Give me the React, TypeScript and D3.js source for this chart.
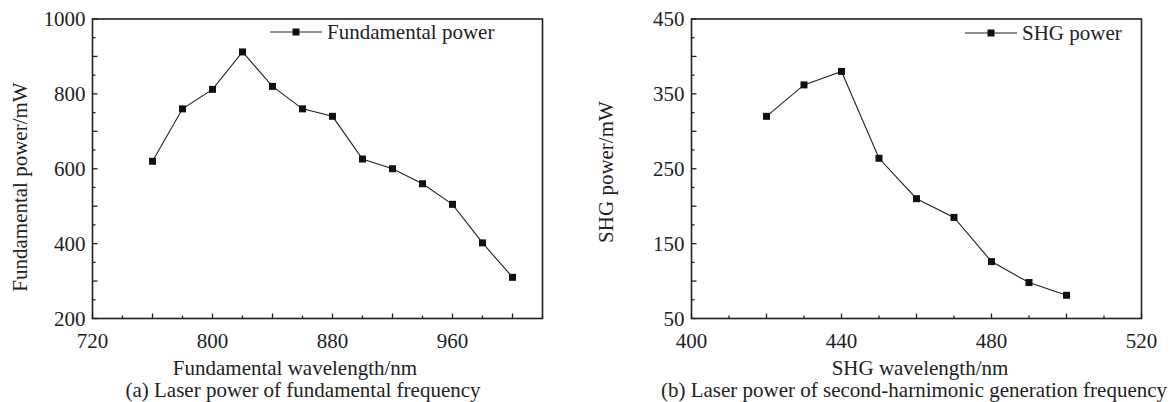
import React from 'react';
import * as d3 from 'd3';

// ---- Data ----
const fundWavelength = [760, 780, 800, 820, 840, 860, 880, 900, 920, 940, 960, 980, 1000];
const fundPower = [620, 760, 812, 912, 820, 760, 740, 626, 600, 560, 505, 402, 310];

const shgWavelength = [420, 430, 440, 450, 460, 470, 480, 490, 500];
const shgPower = [320, 362, 380, 264, 210, 185, 126, 98, 81];

const fundXTickLabels = [720, 800, 880, 960];
const fundYTickLabels = [200, 400, 600, 800, 1000];
const shgXTickLabels = [400, 440, 480, 520];
const shgYTickLabels = [50, 150, 250, 350, 450];

const FONT = '"Liberation Serif", "Times New Roman", serif';
const INK = '#222';

type PanelProps = {
  xs: number[];
  ys: number[];
  xDomain: [number, number];
  yDomain: [number, number];
  xRange: [number, number];
  yRange: [number, number];
  xMinorStep: number;
  xMajorStep: number;
  yMinorStep: number;
  yMajorStep: number;
  xLabels: number[];
  yLabels: number[];
  xTitle: string;
  xTitleX: number;
  yTitle: string;
  yTitleX: number;
  yTitleY: number;
  caption: string;
  captionX: number;
  legend: string;
  legendLine: [number, number];
  legendY: number;
};

function Panel(p: PanelProps) {
  const x = d3.scaleLinear().domain(p.xDomain).range(p.xRange);
  const y = d3.scaleLinear().domain(p.yDomain).range(p.yRange);
  const line = d3
    .line<number>()
    .x((_, i) => x(p.xs[i]))
    .y((d) => y(d));
  const [x0, x1] = p.xRange;
  const [yb, yt] = p.yRange;
  const xTicks = d3.range(p.xDomain[0], p.xDomain[1] + 0.001, p.xMinorStep);
  const yTicks = d3.range(p.yDomain[0], p.yDomain[1] + 0.001, p.yMinorStep);
  const ms = 7;
  const legendMid = (p.legendLine[0] + p.legendLine[1]) / 2;
  return (
    <g fontFamily={FONT} fill={INK}>
      {/* ticks */}
      {xTicks.map((t) => {
        const major = Math.abs(((t - p.xDomain[0]) % p.xMajorStep)) < 1e-6;
        return (
          <line key={'xt' + t} x1={x(t)} x2={x(t)} y1={yb} y2={yb - (major ? 5 : 3)} stroke={INK} strokeWidth={1.3} />
        );
      })}
      {yTicks.map((t) => {
        const major = Math.abs(((t - p.yDomain[0]) % p.yMajorStep)) < 1e-6;
        return (
          <line key={'yt' + t} x1={x0} x2={x0 + (major ? 5 : 3)} y1={y(t)} y2={y(t)} stroke={INK} strokeWidth={1.3} />
        );
      })}
      {/* frame */}
      <rect x={x0} y={yt} width={x1 - x0} height={yb - yt} fill="none" stroke={INK} strokeWidth={1.6} />
      {/* tick labels */}
      {p.xLabels.map((t) => (
        <text key={'xl' + t} x={x(t)} y={yb + 29} textAnchor="middle" fontSize={21}>
          {t}
        </text>
      ))}
      {p.yLabels.map((t) => (
        <text key={'yl' + t} x={x0 - 7} y={y(t) + 7} textAnchor="end" fontSize={21}>
          {t}
        </text>
      ))}
      {/* titles */}
      <text x={p.xTitleX} y={yb + 56} textAnchor="middle" fontSize={21}>
        {p.xTitle}
      </text>
      <text
        x={p.yTitleX}
        y={p.yTitleY}
        transform={`rotate(-90, ${p.yTitleX}, ${p.yTitleY})`}
        textAnchor="middle"
        fontSize={21}
      >
        {p.yTitle}
      </text>
      <text x={p.captionX} y={yb + 78} textAnchor="middle" fontSize={21}>
        {p.caption}
      </text>
      {/* series */}
      <path d={line(p.ys) || ''} fill="none" stroke={INK} strokeWidth={1.1} />
      {p.ys.map((v, i) => (
        <rect key={'m' + i} x={x(p.xs[i]) - ms / 2} y={y(v) - ms / 2} width={ms} height={ms} fill="#111" />
      ))}
      {/* legend */}
      <line x1={p.legendLine[0]} x2={p.legendLine[1]} y1={p.legendY} y2={p.legendY} stroke={INK} strokeWidth={1.1} />
      <rect x={legendMid - ms / 2} y={p.legendY - ms / 2} width={ms} height={ms} fill="#111" />
      <text x={p.legendLine[1] + 5} y={p.legendY + 7} fontSize={21}>
        {p.legend}
      </text>
    </g>
  );
}

export default function App() {
  return (
    <svg
      width={1172}
      height={402}
      style={{ position: 'absolute', left: 0, top: 0, background: '#fff' }}
    >
      <rect x={0} y={0} width={1172} height={402} fill="#fff" />
      <Panel
        xs={fundWavelength}
        ys={fundPower}
        xDomain={[720, 1020]}
        yDomain={[200, 1000]}
        xRange={[92.5, 542.5]}
        yRange={[318.5, 19]}
        xMinorStep={20}
        xMajorStep={40}
        yMinorStep={50}
        yMajorStep={100}
        xLabels={fundXTickLabels}
        yLabels={fundYTickLabels}
        xTitle="Fundamental wavelength/nm"
        xTitleX={295}
        yTitle="Fundamental power/mW"
        yTitleX={27}
        yTitleY={187}
        caption="(a) Laser power of fundamental frequency"
        captionX={303}
        legend="Fundamental power"
        legendLine={[270, 322]}
        legendY={32}
      />
      <Panel
        xs={shgWavelength}
        ys={shgPower}
        xDomain={[400, 520]}
        yDomain={[50, 450]}
        xRange={[691.5, 1141.5]}
        yRange={[318.5, 19]}
        xMinorStep={10}
        xMajorStep={20}
        yMinorStep={25}
        yMajorStep={50}
        xLabels={shgXTickLabels}
        yLabels={shgYTickLabels}
        xTitle="SHG wavelength/nm"
        xTitleX={920}
        yTitle="SHG power/mW"
        yTitleX={613}
        yTitleY={172}
        caption="(b) Laser power of second-harnimonic generation frequency"
        captionX={914}
        legend="SHG power"
        legendLine={[965, 1017]}
        legendY={33}
      />
    </svg>
  );
}
